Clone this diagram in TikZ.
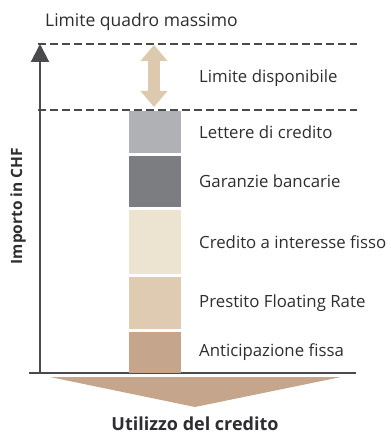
\documentclass[tikz,border=0pt]{standalone}
\usepackage{fontspec}
\setmainfont{Open Sans}
\usetikzlibrary{arrows.meta,positioning}
\definecolor{axisgray}{HTML}{4A4A4C}
\definecolor{textgray}{HTML}{2E2E30}
\definecolor{cLettere}{HTML}{B0B1B5}
\definecolor{cGaranzie}{HTML}{7C7D81}
\definecolor{cCredito}{HTML}{EDE3D1}
\definecolor{cPrestito}{HTML}{DFCBB1}
\definecolor{cAnticip}{HTML}{C5A58B}
\definecolor{cArrow}{HTML}{DDC9AE}
\begin{document}
\begin{tikzpicture}[x=1pt,y=-1pt,
  bar/.style={minimum width=52pt, inner sep=0pt, outer sep=0pt},
  lbl/.style={anchor=west, inner sep=0pt, text=textgray, font=\fontsize{16.8}{19}\selectfont},
  axis/.style={axisgray, line width=2pt},
  limit/.style={axisgray, line width=1.8pt, dash pattern=on 8pt off 4pt}]
\useasboundingbox (0,0) rectangle (390,435);
% axes
\coordinate (origin) at (40,373);
\coordinate (ytop) at (40,44);
\coordinate (xleft) at (29,373);
\coordinate (xright) at (356,373);
\draw[axis, -{Triangle[width=18pt,length=18pt]}] (origin) -- (ytop);
\draw[axis] (xleft) -- (xright);
% limits
\coordinate (maxl) at (38,44);
\coordinate (maxr) at (357,44);
\coordinate (usedl) at (38,110);
\coordinate (usedr) at (357,110);
\draw[limit] (maxl) -- (maxr);
\draw[limit] (usedl) -- (usedr);
\coordinate (dispTop) at (154,45);
\coordinate (dispBot) at (154,107);
\draw[cArrow, line width=12pt, {Triangle[width=26pt,length=16pt]}-{Triangle[width=26pt,length=16pt]}] (dispTop) -- (dispBot);
% stacked bar
\node[bar, fill=cLettere, minimum height=42pt] (lettere) at (155,132) {};
\node[bar, fill=cGaranzie, minimum height=51pt, below=3pt of lettere] (garanzie) {};
\node[bar, fill=cCredito, minimum height=64pt, below=3pt of garanzie] (credito) {};
\node[bar, fill=cPrestito, minimum height=52pt, below=3pt of credito] (prestito) {};
\node[bar, fill=cAnticip, minimum height=41pt, below=3pt of prestito] (anticip) {};
% labels
\node[lbl, font=\fontsize{17.5}{20}\selectfont] (tmax) at (45,22) {Limite quadro massimo};
\node[lbl] (tdisp) at (199,78) {Limite disponibile};
\node[lbl, right=18pt of lettere] (tlettere) {Lettere di credito};
\node[lbl, right=18pt of garanzie] (tgaranzie) {Garanzie bancarie};
\node[lbl, right=18pt of credito] (tcredito) {Credito a interesse fisso};
\node[lbl, right=18pt of prestito] (tprestito) {Prestito Floating Rate};
\node[lbl, right=18pt of anticip] (tanticip) {Anticipazione fissa};
% big arrow
\fill[cAnticip] (50,377) -- (341,377) -- (195,407) -- cycle;
\node[text=textgray, font=\bfseries\fontsize{18}{20}\selectfont, anchor=base, inner sep=0pt] (xlabel) at (195,430) {Utilizzo del credito};
\node[text=textgray, font=\bfseries\fontsize{15.5}{18}\selectfont, rotate=90] (ylabel) at (18,206) {Importo in CHF};
\end{tikzpicture}
\end{document}
